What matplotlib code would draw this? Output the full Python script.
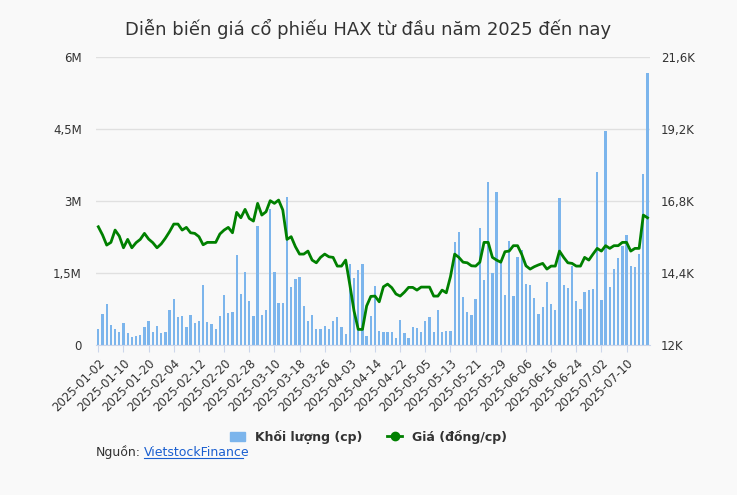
import matplotlib.pyplot as plt
from matplotlib.lines import Line2D
from matplotlib.patches import Patch
import pandas as pd

hol = ["2025-01-01", "2025-01-27", "2025-01-28", "2025-01-29", "2025-01-30", "2025-01-31",
       "2025-04-07", "2025-04-30", "2025-05-01", "2025-05-02"]
dates = pd.bdate_range("2025-01-02", periods=132, freq="C", holidays=hol).strftime("%Y-%m-%d").tolist()

volume = [0.33, 0.65, 0.85, 0.41, 0.33, 0.27, 0.45, 0.24, 0.16, 0.19, 0.2, 0.37, 0.5, 0.27, 0.4, 0.24,
          0.27, 0.72, 0.96, 0.58, 0.6, 0.37, 0.62, 0.46, 0.51, 1.26, 0.48, 0.44, 0.33, 0.6, 1.04, 0.67,
          0.69, 1.87, 1.07, 1.52, 0.91, 0.6, 2.48, 0.62, 0.72, 2.83, 1.52, 0.88, 0.88, 3.08, 1.21, 1.37,
          1.42, 0.81, 0.51, 0.62, 0.33, 0.33, 0.4, 0.33, 0.49, 0.58, 0.37, 0.23, 1.68, 1.4, 1.56, 1.68,
          0.19, 0.6, 1.23, 0.29, 0.28, 0.27, 0.27, 0.14, 0.53, 0.26, 0.14, 0.37, 0.35, 0.27, 0.51, 0.58,
          0.27, 0.72, 0.27, 0.29, 0.29, 2.15, 2.36, 1.0, 0.69, 0.62, 0.96, 2.43, 1.35, 3.39, 1.49, 3.18,
          1.75, 1.04, 2.17, 1.02, 1.84, 1.98, 1.28, 1.26, 0.97, 0.65, 0.79, 1.31, 0.85, 0.72, 3.06, 1.24,
          1.19, 1.65, 0.91, 0.74, 1.1, 1.15, 1.17, 3.6, 0.94, 4.45, 1.21, 1.58, 1.82, 2.06, 2.29, 1.65,
          1.63, 1.9, 3.56, 5.66]
price = [15.94, 15.67, 15.33, 15.42, 15.83, 15.63, 15.24, 15.52, 15.24, 15.41, 15.52, 15.72, 15.53,
         15.41, 15.24, 15.37, 15.56, 15.78, 16.03, 16.03, 15.83, 15.92, 15.74, 15.72, 15.61, 15.34,
         15.42, 15.42, 15.42, 15.7, 15.83, 15.92, 15.74, 16.42, 16.24, 16.52, 16.22, 16.13, 16.72,
         16.33, 16.44, 16.81, 16.72, 16.83, 16.5, 15.52, 15.61, 15.28, 15.03, 15.03, 15.13, 14.83,
         14.74, 14.92, 15.03, 14.94, 14.92, 14.63, 14.63, 14.83, 14.0, 13.13, 12.52, 12.52, 13.3,
         13.62, 13.63, 13.44, 13.94, 14.03, 13.91, 13.7, 13.63, 13.76, 13.92, 13.92, 13.83, 13.93,
         13.93, 13.93, 13.63, 13.63, 13.83, 13.74, 14.28, 15.03, 14.92, 14.76, 14.74, 14.64, 14.63,
         14.76, 15.42, 15.42, 14.92, 14.83, 14.76, 15.11, 15.13, 15.31, 15.31, 15.02, 14.64, 14.53,
         14.61, 14.67, 14.72, 14.53, 14.63, 14.63, 15.13, 14.92, 14.74, 14.72, 14.63, 14.63, 14.92,
         14.83, 15.03, 15.22, 15.13, 15.31, 15.22, 15.31, 15.31, 15.42, 15.42, 15.13, 15.22, 15.22,
         16.33, 16.24]

vol_ticks = [0, 1.5, 3, 4.5, 6]
vol_labels = ["0", "1,5M", "3M", "4,5M", "6M"]
price_ticks = [12, 14.4, 16.8, 19.2, 21.6]
price_labels = ["12K", "14,4K", "16,8K", "19,2K", "21,6K"]

bg = "#f9f9f9"
fig = plt.figure(figsize=(7.37, 4.95), dpi=100, facecolor=bg)
ax = fig.add_axes([0.130, 0.303, 0.752, 0.582], facecolor=bg)
x = list(range(len(dates)))
ax.bar(x, volume, width=0.55, color="#7cb5ec", zorder=2)
ax.set_ylim(0, 6)
ax.set_yticks(vol_ticks, vol_labels)
ax.set_xlim(-0.6, len(dates) - 0.4)
ax.set_xticks(x[::6], dates[::6], rotation=45, ha="right", rotation_mode="anchor")
ax.grid(axis="y", color="#e0e0e0", linewidth=1, zorder=0)
ax.set_axisbelow(True)

ax2 = ax.twinx()
ax2.plot(x, price, color="#008000", linewidth=2, zorder=3)
ax2.set_ylim(12, 21.6)
ax2.set_yticks(price_ticks, price_labels)

for a in (ax, ax2):
    for s in a.spines.values():
        s.set_visible(False)
    a.tick_params(length=0, labelsize=8.5, colors="#333333")
ax.spines["bottom"].set_visible(True)
ax.spines["bottom"].set_color("#ccd6eb")
ax.tick_params(axis="x", length=5, color="#ccd6eb", labelsize=8.5)
ax.tick_params(axis="y", pad=10)
ax2.tick_params(axis="y", pad=8)

fig.text(0.5, 0.93, "Diễn biến giá cổ phiếu HAX từ đầu năm 2025 đến nay", ha="center",
         fontsize=13, color="#333333")
handles = [Patch(color="#7cb5ec", label="Khối lượng (cp)"),
           Line2D([0], [0], color="#008000", lw=2, marker="o", markersize=6, label="Giá (đồng/cp)")]
leg = fig.legend(handles=handles, loc="center", bbox_to_anchor=(0.5, 0.118), ncol=2, frameon=False,
                 prop={"size": 9, "weight": "bold"}, handlelength=1.2, columnspacing=2)
for t in leg.get_texts():
    t.set_color("#333333")
fig.text(0.13, 0.078, "Nguồn:", fontsize=9, color="#333333")
fig.text(0.195, 0.078, "VietstockFinance", fontsize=9, color="#1a5fd0", url="https://finance.vietstock.vn")
fig.add_artist(Line2D([0.195, 0.330], [0.074, 0.074], color="#1a5fd0", lw=0.8))

fig.savefig("out.png", dpi=100, facecolor=bg)
